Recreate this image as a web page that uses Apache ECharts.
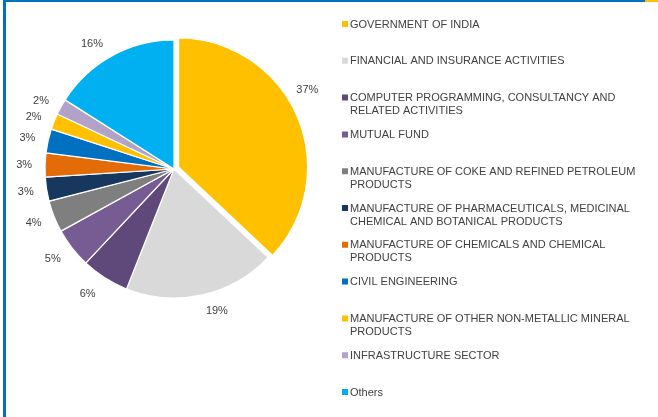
<!DOCTYPE html>
<html><head><meta charset="utf-8">
<script src="https://cdn.jsdelivr.net/npm/echarts@6/dist/echarts.min.js"></script>
<style>
html,body{margin:0;padding:0;background:#fff;}
#frame{position:absolute;left:0;top:0;width:658px;height:417px;}
#bl{position:absolute;left:3px;top:0;width:3px;height:417px;background:#0070C0;}
#bt{position:absolute;left:3px;top:0;width:642px;height:2px;background:#0070C0;}
#by{position:absolute;left:645px;top:0;width:13px;height:2px;background:#FFC000;}
#chart{position:absolute;left:0;top:0;width:658px;height:417px;}
</style></head>
<body>
<div id="frame"><div id="chart"></div><div id="bl"></div><div id="bt"></div><div id="by"></div></div>
<script>
const categories = [
  "GOVERNMENT OF INDIA",
  "FINANCIAL AND INSURANCE ACTIVITIES",
  "COMPUTER PROGRAMMING, CONSULTANCY AND RELATED ACTIVITIES",
  "MUTUAL FUND",
  "MANUFACTURE OF COKE AND REFINED PETROLEUM PRODUCTS",
  "MANUFACTURE OF PHARMACEUTICALS, MEDICINAL CHEMICAL AND BOTANICAL PRODUCTS",
  "MANUFACTURE OF CHEMICALS AND CHEMICAL PRODUCTS",
  "CIVIL ENGINEERING",
  "MANUFACTURE OF OTHER NON-METALLIC MINERAL PRODUCTS",
  "INFRASTRUCTURE SECTOR",
  "Others"
];
const legendLabels = [
  "GOVERNMENT OF INDIA",
  "FINANCIAL AND INSURANCE ACTIVITIES",
  "COMPUTER PROGRAMMING, CONSULTANCY AND\nRELATED ACTIVITIES",
  "MUTUAL FUND",
  "MANUFACTURE OF COKE AND REFINED PETROLEUM\nPRODUCTS",
  "MANUFACTURE OF PHARMACEUTICALS, MEDICINAL\nCHEMICAL AND BOTANICAL PRODUCTS",
  "MANUFACTURE OF CHEMICALS AND CHEMICAL\nPRODUCTS",
  "CIVIL ENGINEERING",
  "MANUFACTURE OF OTHER NON-METALLIC MINERAL\nPRODUCTS",
  "INFRASTRUCTURE SECTOR",
  "Others"
];
const values = [37, 19, 6, 5, 4, 3, 3, 3, 2, 2, 16];
const colors = ["#FFC000","#D9D9D9","#5F497A","#775C94","#7F7F7F","#17375E","#E36C09","#0070C0","#FFC000","#B3A2C7","#00B0F0"];

const PIE_CX = 174, PIE_CY = 169, PIE_R = 129;

const labelMap = {};
categories.forEach((c, i) => {
  const l = legendLabels[i];
  labelMap[c] = l.indexOf("\n") >= 0 ? l : l + "\n ";
});

const chart = echarts.init(document.getElementById('chart'), null, {renderer: 'canvas'});
chart.setOption({
  animation: false,
  color: colors,
  legend: {
    orient: 'vertical',
    left: 342,
    top: 11.5,
    height: 412,
    padding: 0,
    itemWidth: 6,
    itemHeight: 20,
    itemGap: -2.2,
    icon: 'path://M0,0h6v6h-6zM0,19.99h0.01v0.01h-0.01z',
    itemStyle: { borderWidth: 0 },
    selectedMode: false,
    formatter: name => labelMap[name],
    textStyle: {
      fontFamily: 'Liberation Sans, Arial, sans-serif',
      fontSize: 11,
      lineHeight: 13,
      color: '#404040',
      padding: [13, 0, 0, -3]
    },
    data: categories
  },
  series: [{
    type: 'pie',
    center: [PIE_CX, PIE_CY],
    radius: PIE_R,
    startAngle: 90,
    clockwise: true,
    selectedMode: 'single',
    selectedOffset: 5,
    avoidLabelOverlap: false,
    itemStyle: { borderColor: '#fff', borderWidth: 1.2 },
    label: {
      show: true,
      position: 'outside',
      formatter: '{d}%',
      fontFamily: 'Liberation Sans, Arial, sans-serif',
      fontSize: 11,
      color: '#404040'
    },
    labelLine: { show: false, length: 8, length2: 0 },
    labelLayout: function (p) {
      const r = p.labelRect;
      const mx = r.x + r.width / 2, my = r.y + r.height / 2;
      const d = Math.sqrt((mx - PIE_CX) * (mx - PIE_CX) + (my - PIE_CY) * (my - PIE_CY)) || 1;
      const dirY = (my - PIE_CY) / d;
      let dy = dirY * r.height * (dirY > 0 ? 1 : 0.5);
      let dx = 0;
      if (p.dataIndex === 0) { dx = -13; dy -= 21; }
      if (p.dataIndex === 1) { dx = -3; dy -= 2; }
      return { dx: dx, dy: dy };
    },
    emphasis: { disabled: true },
    data: categories.map((c, i) => ({ name: c, value: values[i], selected: i === 0 }))
  }]
});
</script>
</body></html>
